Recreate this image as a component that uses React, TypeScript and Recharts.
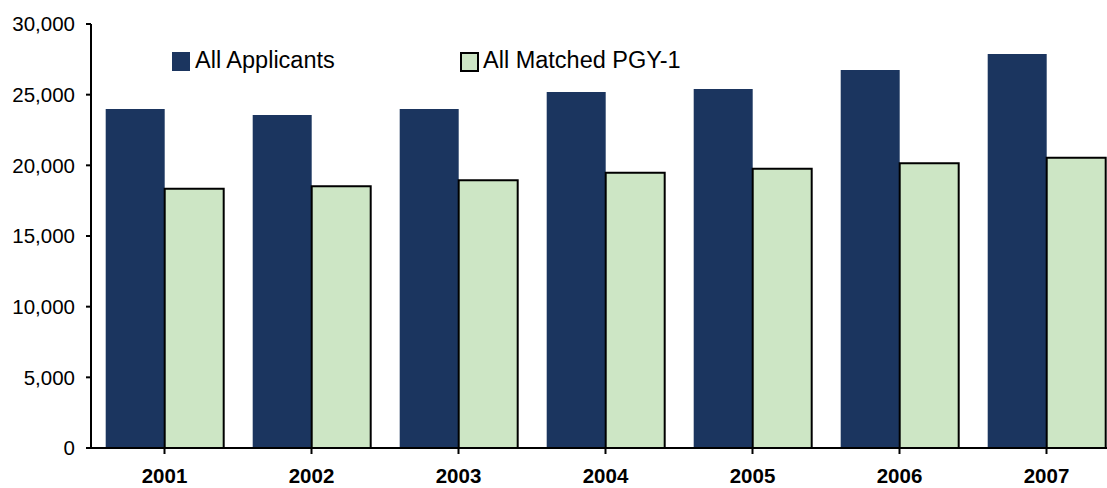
import React from 'react';
import { BarChart, Bar, XAxis, YAxis } from 'recharts';

const years = ['2001', '2002', '2003', '2004', '2005', '2006', '2007'];
const allApplicants = [23990, 23560, 23990, 25190, 25400, 26745, 27880];
const allMatched = [18350, 18520, 18940, 19480, 19760, 20140, 20540];
const yTicks = [0, 5000, 10000, 15000, 20000, 25000, 30000];
const seriesNames = ['All Applicants', 'All Matched PGY-1'];

const data = years.map((y, i) => ({ year: y, applicants: allApplicants[i], matched: allMatched[i] }));

const FONT = '"Liberation Sans", Arial, sans-serif';

const ChartLegend = () => (
  <div style={{ position: 'absolute', left: 0, top: 0, width: 1107, height: 80, fontFamily: FONT, pointerEvents: 'none' }}>
    <div style={{ position: 'absolute', left: 172, top: 52, width: 18, height: 19, background: '#1b355f' }} />
    <div style={{ position: 'absolute', left: 195, top: 45, fontSize: 23.5, lineHeight: '30px', color: '#000', whiteSpace: 'nowrap' }}>{seriesNames[0]}</div>
    <div style={{ position: 'absolute', left: 460, top: 52, width: 15, height: 16, background: '#cde6c5', border: '2px solid #000' }} />
    <div style={{ position: 'absolute', left: 483, top: 45, fontSize: 23.5, lineHeight: '30px', color: '#000', whiteSpace: 'nowrap' }}>{seriesNames[1]}</div>
  </div>
);

export default function App() {
  return (
    <div style={{ position: 'absolute', left: 0, top: 0, width: 1107, height: 488, overflow: 'hidden', background: '#fff' }}>
      <BarChart
        width={1125}
        height={488}
        data={data}
        margin={{ top: 24, right: 5, bottom: 0, left: 0 }}
        barCategoryGap="10%"
        barGap={0}
      >
        <XAxis
          dataKey="year"
          axisLine={{ stroke: '#000', strokeWidth: 2 }}
          tickLine={{ stroke: '#000', strokeWidth: 2 }}
          tickSize={6}
          tickMargin={14}
          height={40}
          interval={0}
          tick={{ fill: '#000', fontSize: 20.5, fontWeight: 'bold', fontFamily: FONT }}
          padding={{ left: 0, right: 0 }}
        />
        <YAxis
          domain={[0, 30000]}
          ticks={yTicks}
          width={91}
          axisLine={{ stroke: '#000', strokeWidth: 2 }}
          tickLine={{ stroke: '#000', strokeWidth: 2 }}
          tickSize={5}
          tickMargin={11}
          tickFormatter={(v: number) => v.toLocaleString('en-US')}
          tick={{ fill: '#000', fontSize: 20.5, fontFamily: FONT }}
          interval={0}
        />
        <Bar dataKey="applicants" name={seriesNames[0]} fill="#1b355f" isAnimationActive={false} />
        <Bar dataKey="matched" name={seriesNames[1]} fill="#cde6c5" stroke="#000" strokeWidth={2} isAnimationActive={false} />
      </BarChart>
      <ChartLegend />
    </div>
  );
}
